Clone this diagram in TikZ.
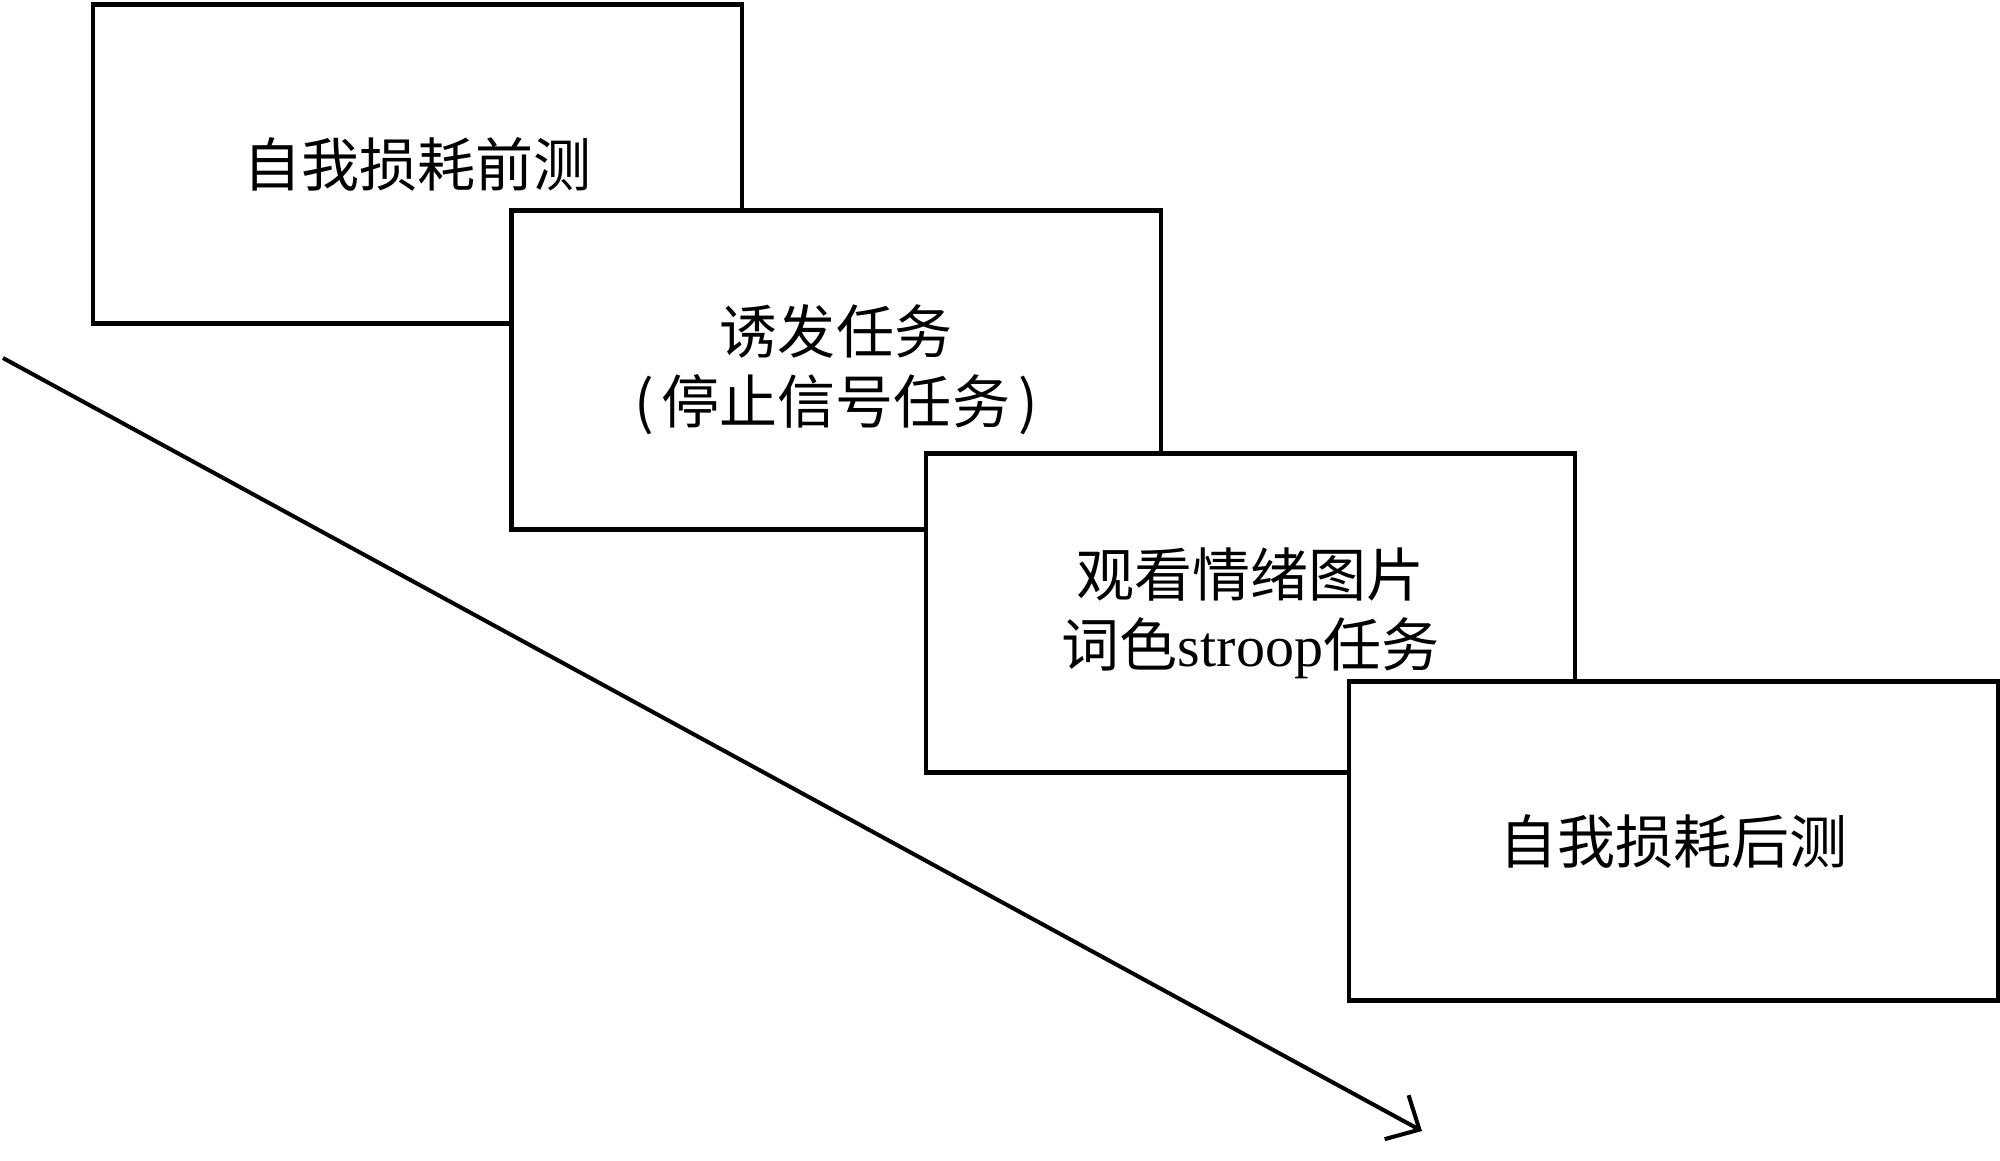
\documentclass[tikz,border=0pt]{standalone}
\usepackage{fontspec}
\setmainfont{Liberation Serif}
\newfontfamily\cjk{Noto Sans CJK SC}
\newfontfamily\tms{Liberation Serif}
\usetikzlibrary{arrows.meta}
\tikzset{
  stage/.style={draw=black, fill=white, line width=1.25pt, rectangle,
    minimum width=6.49cm, minimum height=3.19cm, inner sep=0pt,
    align=center, font=\cjk\fontsize{16.5pt}{19.9pt}\selectfont},
  timeline/.style={line width=1.15pt, -{Straight Barb[length=2.6mm,width=5mm,line width=1.15pt]}}
}
\begin{document}
\begin{tikzpicture}[x=0.01cm,y=-0.01cm]
\useasboundingbox (0,0) rectangle (2000,1160);
\node[stage] (s1) at (417.5,164) {自我损耗前测};
\node[stage] (s2) at (836,370) {诱发任务\\(\hspace{0.08cm}停止信号任务\hspace{0.08cm})};
\node[stage] (s3) at (1250.5,613) {观看情绪图片\\词色{\tms stroop}任务};
\node[stage] (s4) at (1673.5,841) {自我损耗后测};
\coordinate (t0) at (3,358);
\coordinate (t1) at (1422,1131);
\draw[timeline] (t0) -- (t1);
\end{tikzpicture}
\end{document}
